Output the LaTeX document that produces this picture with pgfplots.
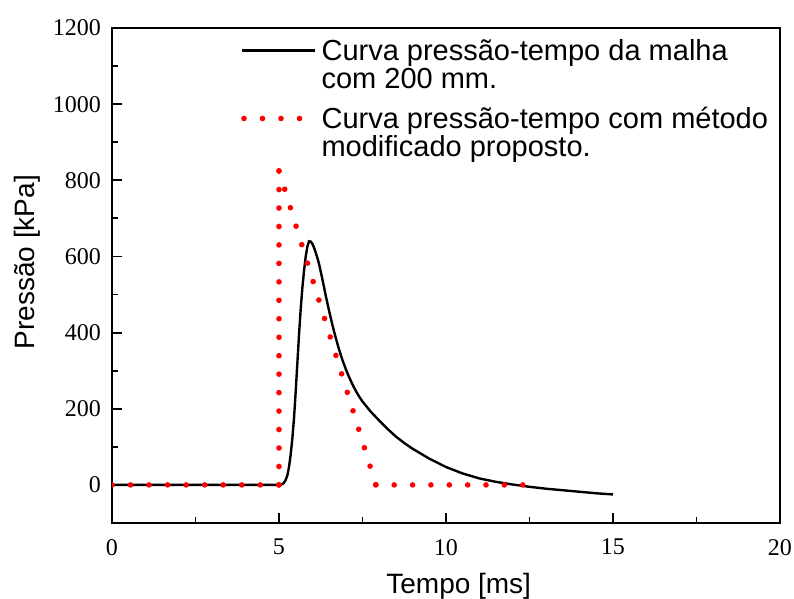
\documentclass[border=0pt]{standalone}
\usepackage{fontspec}
\setmainfont{Liberation Sans}
\newfontfamily\tnr{Liberation Serif}
\usepackage{pgfplots}
\pgfplotsset{compat=1.18}
\begin{document}
\begin{tikzpicture}
\begin{axis}[
  scale only axis, width=334pt, height=247.5pt,
  xmin=0, xmax=20, ymin=-100, ymax=1200,
  xtick={0,5,10,15,20}, ytick={0,200,400,600,800,1000,1200},
  minor x tick num=1, minor y tick num=1,
  tick pos=left,
  tick align=inside,
  major tick length=5pt, minor tick length=3pt,
  axis line style={line width=0.9pt},
  tick style={line width=0.9pt, black},
  tick label style={font=\tnr\fontsize{12}{14}\selectfont},
  /pgf/number format/assume math mode=true,
  /pgf/number format/1000 sep={},
  xticklabel style={yshift=-4.5pt},
  yticklabel style={xshift=-2pt},
  xlabel={Tempo [ms]}, ylabel={Pressão [kPa]},
  label style={font=\fontsize{14}{16}\selectfont},
  xlabel style={at={(axis description cs:0.519,-0.128)}, anchor=center},
  ylabel style={at={(axis description cs:-0.1272,0.527)}, anchor=center},
  legend style={draw=none, fill=none, at={(axis description cs:0.1916,0.982)}, anchor=north west,
    font=\fontsize{14.5}{14}\selectfont, row sep=6pt, column sep=1.5pt, inner sep=0pt,
    nodes={inner sep=1pt, align=left}},
  legend cell align=left,
  reddot/.style={red, line width=2.8pt, line cap=round, dash pattern=on 0pt off #1},
]
\addplot[black, line width=1.2pt,
  legend image code/.code={\draw[black, line width=1.6pt, solid] (0pt,7.5pt) -- (36.5pt,7.5pt);}]
  coordinates {
(0,0) (5,0) (5.05,0.5) (5.1,2) (5.15,6) (5.2,13) (5.25,25) (5.3,47) (5.35,80) (5.4,122)
(5.45,176) (5.5,245) (5.55,320) (5.6,395) (5.65,462) (5.7,518) (5.75,563) (5.8,600)
(5.85,626) (5.9,640) (5.95,639) (6.0,633) (6.05,623) (6.1,610) (6.15,596) (6.2,580)
(6.3,540) (6.4,497) (6.5,457) (6.6,420) (6.7,386) (6.8,355) (6.9,328) (7.0,304) (7.1,283)
(7.2,264) (7.3,247) (7.4,232) (7.5,219) (7.75,192) (8.0,169) (8.25,147) (8.5,127)
(8.75,110) (9.0,95) (9.5,69) (10.0,47) (10.5,30) (11.0,17) (11.5,8) (12.0,1) (12.5,-5)
(13.0,-10) (13.5,-14) (14.0,-18) (14.5,-22) (15,-25)
};
\addlegendentry{Curva pressão-tempo da malha\\com 200 mm.}
\addplot[reddot=9.27pt,
  legend image code/.code={\fill[red, draw=none] (1pt,7.5pt) circle (1.4pt) (10.25pt,7.5pt) circle (1.4pt) (19.5pt,7.5pt) circle (1.4pt) (28.75pt,7.5pt) circle (1.4pt);}]
  coordinates {(0,0) (5,0)};
\addlegendentry{Curva pressão-tempo com método\\modificado proposto.}
\addplot[reddot=9.23pt, forget plot] coordinates {(5,0) (5,825)};
\addplot[reddot=9.66pt, forget plot] coordinates {(5,825) (7.9,0)};
\addplot[reddot=9.18pt, forget plot] coordinates {(7.9,0) (12.3,0)};
\end{axis}
\pgfresetboundingbox
\path[use as bounding box] ([shift={(-56pt,-38pt)}]current axis.south west) rectangle ([shift={(7pt,14pt)}]current axis.north east);
\end{tikzpicture}
\end{document}
